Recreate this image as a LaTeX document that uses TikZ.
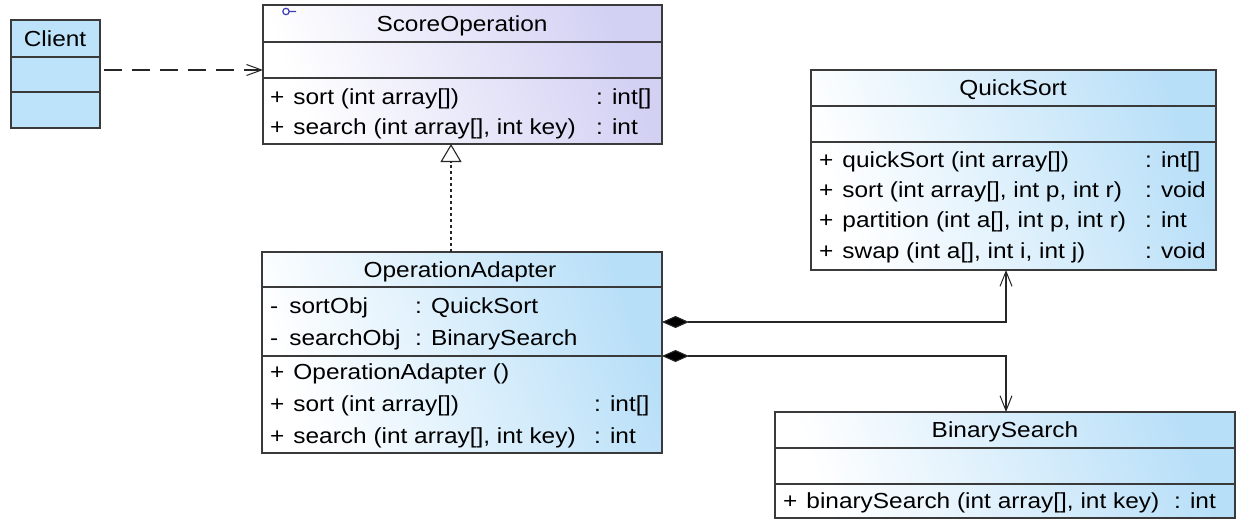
\documentclass[tikz,border=0pt]{standalone}
\usepackage{fontspec}
\newfontfamily\uml[FakeStretch=1.12]{Liberation Sans}
\usetikzlibrary{arrows.meta}
\definecolor{boxline}{HTML}{3A3A3A}
\definecolor{clsblue}{HTML}{B8DFF8}
\definecolor{clslav}{HTML}{D2D0F3}
\definecolor{clientblue}{HTML}{BDE3FA}
\definecolor{iconblue}{HTML}{3C3CB0}
\tikzset{
  cls/.style={draw=boxline, line width=1.3pt, inner sep=0pt, outer sep=0pt, anchor=north west, left color=white, right color=#1, shading angle=110},
  sep/.style={draw=boxline, line width=1.3pt},
  txt/.style={anchor=base west, inner sep=0pt, font=\uml\fontsize{21.8}{26}\selectfont, text=black},
  ttl/.style={anchor=base, inner sep=0pt, font=\uml\fontsize{21.8}{26}\selectfont, text=black},
  conn/.style={draw=black!85, line width=1.1pt}
}
\newcommand\pl{+\hspace{9pt}}
\newcommand\mi{-\hspace{11pt}}
\begin{document}
\begin{tikzpicture}[x=1pt,y=-1pt]
\useasboundingbox (0,0) rectangle (1248,530);
\fill[white] (0,0) rectangle (1248,530);

% Client
\node[draw=boxline, line width=1.3pt, inner sep=0pt, outer sep=0pt, anchor=north west, fill=clientblue, minimum width=89pt, minimum height=108pt] (client) at (11,20) {};
\draw[sep] (client.west |- 0,57) -- (client.east |- 0,57);
\draw[sep] (client.west |- 0,92) -- (client.east |- 0,92);
\node[ttl] (clientT) at (55,46) {Client};

% ScoreOperation
\node[cls=clslav, minimum width=399pt, minimum height=139pt] (so) at (263,5) {};
\draw[sep] (so.west |- 0,42) -- (so.east |- 0,42);
\draw[sep] (so.west |- 0,78) -- (so.east |- 0,78);
\draw[iconblue, line width=1.2pt] (286,11.5) circle (3.2pt) (289.2,11.5) -- (296,11.5);
\node[ttl] (soT) at (462,31) {ScoreOperation};
\node[txt] (so1) at (270,104) {\pl sort (int array[])};
\node[txt] (so1r) at (596,104) {: int[]};
\node[txt] (so2) at (270,134) {\pl search (int array[], int key)};
\node[txt] (so2r) at (596,134) {: int};

% OperationAdapter
\node[cls=clsblue, minimum width=400pt, minimum height=201pt] (oa) at (262,252) {};
\draw[sep] (oa.west |- 0,287) -- (oa.east |- 0,287);
\draw[sep] (oa.west |- 0,356) -- (oa.east |- 0,356);
\node[ttl] (oaT) at (460,277) {OperationAdapter};
\node[txt] (oa1) at (270,313) {\mi sortObj};
\node[txt] (oa1r) at (415,313) {: QuickSort};
\node[txt] (oa2) at (270,345) {\mi searchObj};
\node[txt] (oa2r) at (415,345) {: BinarySearch};
\node[txt] (oa3) at (270,379) {\pl OperationAdapter ()};
\node[txt] (oa4) at (270,411) {\pl sort (int array[])};
\node[txt] (oa4r) at (594,411) {: int[]};
\node[txt] (oa5) at (270,443) {\pl search (int array[], int key)};
\node[txt] (oa5r) at (594,443) {: int};

% QuickSort
\node[cls=clsblue, minimum width=405pt, minimum height=200pt] (qs) at (811,70) {};
\draw[sep] (qs.west |- 0,106) -- (qs.east |- 0,106);
\draw[sep] (qs.west |- 0,142) -- (qs.east |- 0,142);
\node[ttl] (qsT) at (1013,95) {QuickSort};
\node[txt] (qs1) at (819,167) {\pl quickSort (int array[])};
\node[txt] (qs1r) at (1145,167) {: int[]};
\node[txt] (qs2) at (819,197) {\pl sort (int array[], int p, int r)};
\node[txt] (qs2r) at (1145,197) {: void};
\node[txt] (qs3) at (819,227) {\pl partition (int a[], int p, int r)};
\node[txt] (qs3r) at (1145,227) {: int};
\node[txt] (qs4) at (819,258) {\pl swap (int a[], int i, int j)};
\node[txt] (qs4r) at (1145,258) {: void};

% BinarySearch
\node[cls=clsblue, minimum width=460pt, minimum height=106pt] (bs) at (775,412) {};
\draw[sep] (bs.west |- 0,448) -- (bs.east |- 0,448);
\draw[sep] (bs.west |- 0,484) -- (bs.east |- 0,484);
\node[ttl] (bsT) at (1005,437) {BinarySearch};
\node[txt] (bs1) at (783,508) {\pl binarySearch (int array[], int key)};
\node[txt] (bs1r) at (1174,508) {: int};

% Connectors
\draw[conn, dash pattern=on 18pt off 10pt, -{Straight Barb[length=15pt, width=11pt, line width=1pt]}, shorten <=4pt] (client.east |- 0,70) -- (so.west |- 0,70);
\coordinate (rz) at (451,0);
\draw[conn, dash pattern=on 3pt off 3pt, -{Triangle[open, length=18pt, width=21pt, fill=white]}] (oa.north -| rz) -- (so.south -| rz);
\coordinate (c1) at (1006,322);
\coordinate (c2) at (1006,356);
\draw[conn, {Diamond[length=27pt, width=12pt, fill=black]}-{Straight Barb[length=15pt, width=12pt, line width=1pt]}] (oa.east |- c1) -- (c1) -- (qs.south -| c1);
\draw[conn, {Diamond[length=27pt, width=12pt, fill=black]}-{Straight Barb[length=15pt, width=12pt, line width=1pt]}] (oa.east |- c2) -- (c2) -- (bs.north -| c2);
\end{tikzpicture}
\end{document}
